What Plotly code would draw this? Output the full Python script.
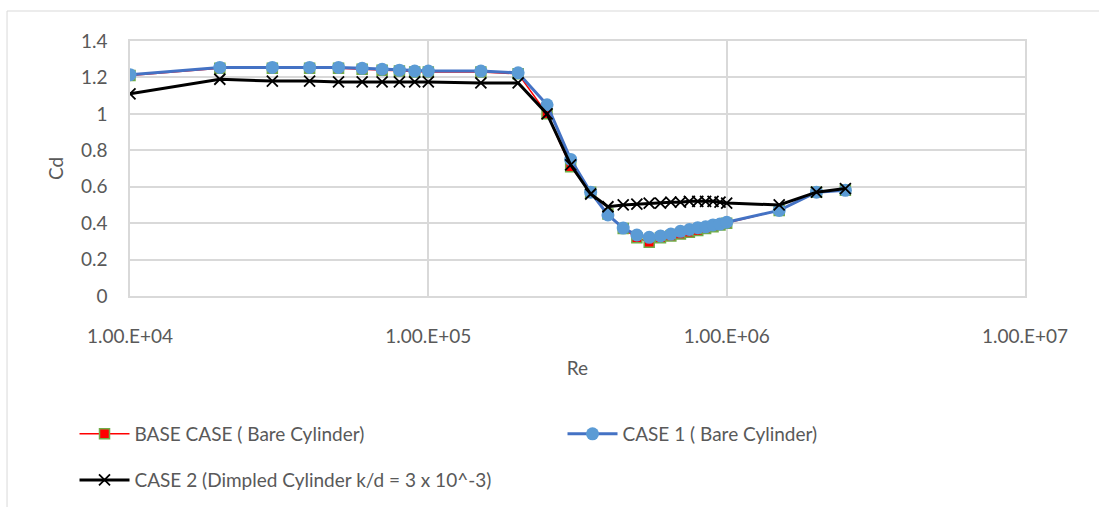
import plotly.graph_objects as go

# Reynolds numbers shared by all three series
re_values = [1e4, 2e4, 3e4, 4e4, 5e4, 6e4, 7e4, 8e4, 9e4, 1e5, 1.5e5, 2e5, 2.5e5,
             3e5, 3.5e5, 4e5, 4.5e5, 5e5, 5.5e5, 6e5, 6.5e5, 7e5, 7.5e5, 8e5,
             8.5e5, 9e5, 9.5e5, 1e6, 1.5e6, 2e6, 2.5e6]

# Drag coefficients
cd_base = [1.21, 1.25, 1.25, 1.25, 1.25, 1.245, 1.24, 1.235, 1.23, 1.23, 1.23, 1.22, 1.0,
           0.71, 0.57, 0.45, 0.37, 0.32, 0.295, 0.32, 0.33, 0.34, 0.35, 0.36,
           0.37, 0.38, 0.39, 0.40, 0.47, 0.57, 0.58]
cd_case1 = [1.215, 1.255, 1.255, 1.255, 1.255, 1.25, 1.245, 1.24, 1.235, 1.235, 1.235, 1.225, 1.05,
            0.75, 0.57, 0.445, 0.373, 0.335, 0.322, 0.33, 0.34, 0.355, 0.365, 0.375,
            0.38, 0.39, 0.395, 0.405, 0.47, 0.57, 0.58]
cd_case2 = [1.11, 1.19, 1.18, 1.18, 1.175, 1.175, 1.175, 1.175, 1.175, 1.175, 1.17, 1.17, 1.0,
            0.72, 0.56, 0.49, 0.50, 0.505, 0.51, 0.51, 0.515, 0.515, 0.52, 0.52,
            0.52, 0.52, 0.515, 0.51, 0.50, 0.57, 0.59]

names = ["BASE CASE ( Bare Cylinder)", "CASE 1 ( Bare Cylinder)",
         "CASE 2 (Dimpled Cylinder k/d = 3 x 10^-3)"]

x_ticks = [1e4, 1e5, 1e6, 1e7]
x_tick_text = ["1.00.E+04", "1.00.E+05", "1.00.E+06", "1.00.E+07"]
y_ticks = [0, 0.2, 0.4, 0.6, 0.8, 1, 1.2, 1.4]
y_tick_text = ["0", "0.2", "0.4", "0.6", "0.8", "1", "1.2", "1.4"]

font_family = "Lato, Open Sans, sans-serif"
font_size = 19
text_grey = "#595959"
grid_grey = "#D9D9D9"

fig = go.Figure()
fig.add_trace(go.Scatter(
    x=re_values, y=cd_base, name=names[0], mode="lines+markers",
    line=dict(color="#FF0000", width=1.5),
    marker=dict(symbol="square", size=10, color="#FF0000",
                line=dict(color="#70AD47", width=1.5)),
    legend="legend",
))
fig.add_trace(go.Scatter(
    x=re_values, y=cd_case1, name=names[1], mode="lines+markers",
    line=dict(color="#4472C4", width=3),
    marker=dict(symbol="circle", size=13, color="#5B9BD5",
                line=dict(width=0)),
    legend="legend",
))
fig.add_trace(go.Scatter(
    x=re_values, y=cd_case2, name=names[2], mode="lines+markers",
    line=dict(color="#000000", width=3),
    marker=dict(symbol="x-thin", size=11, color="#000000",
                line=dict(color="#000000", width=1.8)),
    legend="legend2",
))

# Outer chart-area border
fig.add_shape(type="rect", xref="paper", yref="paper",
              x0=-0.1374, x1=1.3, y0=-1.5, y1=1.1176,
              line=dict(color=grid_grey, width=1), fillcolor="rgba(0,0,0,0)",
              layer="below")

legend_common = dict(orientation="h", xanchor="left", yanchor="middle",
                     entrywidthmode="pixels", itemwidth=50,
                     font=dict(family=font_family, size=font_size, color=text_grey),
                     bgcolor="rgba(0,0,0,0)")

fig.update_layout(
    width=1099, height=507,
    margin=dict(l=130, r=74, t=41, b=211, autoexpand=False),
    paper_bgcolor="white", plot_bgcolor="white",
    font=dict(family=font_family, size=font_size, color=text_grey),
    showlegend=True,
    legend=dict(x=-0.062, y=-0.541, entrywidth=423, **legend_common),
    legend2=dict(x=-0.062, y=-0.722, **legend_common),
    xaxis=dict(type="log", range=[4, 7], tickmode="array",
               tickvals=x_ticks, ticktext=x_tick_text,
               showgrid=True, gridcolor=grid_grey, gridwidth=1.5,
               showline=True, linecolor=grid_grey, linewidth=1.5, mirror=True,
               ticks="", zeroline=False, ticklabelstandoff=22,
               tickfont=dict(size=font_size, color=text_grey),
               title=dict(text="Re", font=dict(size=font_size, color=text_grey), standoff=16)),
    yaxis=dict(range=[0, 1.4], tickmode="array",
               tickvals=y_ticks, ticktext=y_tick_text,
               showgrid=True, gridcolor=grid_grey, gridwidth=1.5,
               showline=True, linecolor=grid_grey, linewidth=1.5, mirror=True,
               ticks="", zeroline=False, ticklabelstandoff=17,
               tickfont=dict(size=font_size, color=text_grey),
               title=dict(text="Cd", font=dict(size=font_size, color=text_grey), standoff=12)),
)

fig.write_html("out.html")
